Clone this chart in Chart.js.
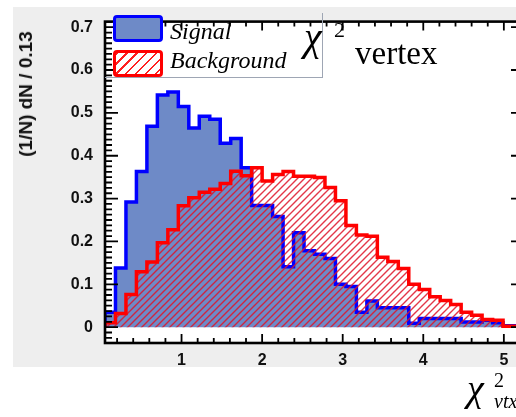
<!DOCTYPE html>
<html>
<head>
<meta charset="utf-8">
<title>chi2 vertex</title>
<script src="https://cdn.jsdelivr.net/npm/chart.js@4.4.1/dist/chart.umd.min.js"></script>
<style>
    html, body { margin: 0; padding: 0; background: #fff; width: 516px; height: 417px; overflow: hidden; }
    #figBg { position: absolute; left: 13px; top: 7px; width: 503px; height: 360px; background: #eeeeee; }
    #wrap { position: absolute; left: 0; top: 0; width: 530px; height: 417px; }
    .txt { position: absolute; line-height: 1; white-space: nowrap; color: #000; font-family: "Liberation Serif", "DejaVu Serif", serif; }
    #yTitle { position: absolute; left: 26px; top: 94px; transform: translate(-50%, -50%) rotate(-90deg);
              font: bold 19px "Liberation Sans", Arial, sans-serif; color: #111; white-space: nowrap; }
    #legendBox { position: absolute; left: 105px; top: 13px; width: 217px; height: 64px;
                 border-right: 1.5px solid #9ea6b4; border-bottom: 1.5px solid #9ea6b4; }
    .swatch { position: absolute; left: 113px; width: 44px; height: 21px; border-radius: 4px; }
    #swSig { top: 15px; background: rgb(110, 138, 199); border: 3px solid #0000ff; }
    #swBkg { top: 50px; background: repeating-linear-gradient(135deg, #ff2020 0 1.6px, #fff 1.6px 7px); border: 3px solid #ff0000; }
</style>
</head>
<body>
<div id="figBg"></div>
<div id="wrap"><canvas id="chart"></canvas></div>

<div id="legendBox"></div>
<div class="swatch" id="swSig"></div>
<div class="swatch" id="swBkg"></div>
<div class="txt" style="left:170px; top:19px; font-size:24px; font-style:italic;">Signal</div>
<div class="txt" style="left:170px; top:48px; font-size:24px; font-style:italic;">Background</div>

<div class="txt" style="left:304px; top:17px; font-size:40px; font-style:italic;">χ</div>
<div class="txt" style="left:334px; top:19px; font-size:22px;">2</div>
<div class="txt" style="left:355px; top:37px; font-size:33px;">vertex</div>

<div class="txt" style="left:467px; top:369px; font-size:38px; font-style:italic;">χ</div>
<div class="txt" style="left:494px; top:370px; font-size:20px;">2</div>
<div class="txt" style="left:494px; top:391px; font-size:20px; font-style:italic;">vtx</div>

<div id="yTitle">(1/N) dN / 0.13</div>

<script>
// Histogram binning: 40 bins of width 0.13 starting at 0.05
const binEdges = [0.05, 0.18, 0.31, 0.44, 0.57, 0.70, 0.83, 0.96, 1.09, 1.22,
                  1.35, 1.48, 1.61, 1.74, 1.87, 2.00, 2.13, 2.26, 2.39, 2.52,
                  2.65, 2.78, 2.91, 3.04, 3.17, 3.30, 3.43, 3.56, 3.69, 3.82,
                  3.95, 4.08, 4.21, 4.34, 4.47, 4.60, 4.73, 4.86, 4.99, 5.12, 5.25];

// (1/N) dN per bin
const signalValues = [0.035, 0.138, 0.292, 0.363, 0.469, 0.542, 0.549, 0.515, 0.465, 0.492,
                      0.485, 0.429, 0.440, 0.372, 0.284, 0.284, 0.258, 0.141, 0.220, 0.178,
                      0.170, 0.160, 0.100, 0.095, 0.035, 0.061, 0.045, 0.045, 0.045, 0.009,
                      0.020, 0.020, 0.020, 0.020, 0.012, 0.012, 0.016, 0.010, 0.003, 0.003];

const backgroundValues = [0.010, 0.032, 0.076, 0.129, 0.152, 0.197, 0.227, 0.283, 0.302, 0.315,
                          0.322, 0.335, 0.364, 0.353, 0.372, 0.341, 0.356, 0.363, 0.352, 0.352,
                          0.349, 0.326, 0.295, 0.237, 0.215, 0.212, 0.163, 0.153, 0.137, 0.100,
                          0.088, 0.071, 0.062, 0.053, 0.035, 0.028, 0.018, 0.016, 0.002, 0.002];

// Tick labels
const xTickValues = [1, 2, 3, 4, 5];
const yTickValues = [0, 0.1, 0.2, 0.3, 0.4, 0.5, 0.6, 0.7];

// Turn bin contents into a step outline (left edge of each bin, closed at both ends)
function histPoints(values) {
    const pts = [{ x: binEdges[0], y: 0 }];
    values.forEach((v, i) => pts.push({ x: binEdges[i], y: v }));
    pts.push({ x: binEdges[values.length], y: 0 });
    return pts;
}

// Red "///" hatch used for the background fill
function makeHatch() {
    const c = document.createElement('canvas');
    c.width = 7;
    c.height = 7;
    const g = c.getContext('2d');
    g.strokeStyle = 'rgba(222, 20, 40, 0.85)';
    g.lineWidth = 1.4;
    g.beginPath();
    g.moveTo(-1, 8); g.lineTo(8, -1);
    g.moveTo(-1, 1); g.lineTo(1, -1);
    g.moveTo(6, 8); g.lineTo(8, 6);
    g.stroke();
    return g.createPattern(c, 'repeat');
}

// ROOT-like frame: white pad, box, inward ticks on all four sides
const rootFrame = {
    id: 'rootFrame',
    beforeDraw(chart) {
        const { ctx, chartArea: a } = chart;
        ctx.save();
        ctx.fillStyle = '#fff';
        ctx.fillRect(a.left, a.top, a.right - a.left, a.bottom - a.top);
        ctx.restore();
    },
    afterDatasetsDraw(chart) {
        const { ctx, chartArea: a, scales } = chart;
        const xs = scales.x, ys = scales.y;
        ctx.save();
        ctx.strokeStyle = '#000';
        ctx.lineWidth = 1.8;
        ctx.beginPath();
        // x ticks every 0.2, major every 1
        for (let i = 1; i * 0.2 < xs.max; i++) {
            const px = xs.getPixelForValue(i * 0.2);
            const len = i % 5 === 0 ? 9 : 5;
            ctx.moveTo(px, a.bottom); ctx.lineTo(px, a.bottom - len);
            ctx.moveTo(px, a.top); ctx.lineTo(px, a.top + len);
        }
        // y ticks every 0.0125, major every 0.1
        for (let i = -2; i * 0.0125 <= ys.max; i++) {
            const py = ys.getPixelForValue(i * 0.0125);
            const len = i % 8 === 0 ? 13 : 7;
            ctx.moveTo(a.left, py); ctx.lineTo(a.left + len, py);
            ctx.moveTo(a.right, py); ctx.lineTo(a.right - len, py);
        }
        ctx.stroke();
        ctx.lineWidth = 2.6;
        ctx.strokeRect(a.left, a.top, a.right - a.left, a.bottom - a.top);
        ctx.restore();
    }
};

const tickFont = { family: '"Liberation Sans", Arial, sans-serif', size: 16, weight: 'bold' };

new Chart(document.getElementById('chart'), {
    type: 'line',
    data: {
        datasets: [
            {
                label: 'Signal',
                data: histPoints(signalValues),
                stepped: true,
                borderColor: '#0000ff',
                borderWidth: 3.5,
                backgroundColor: 'rgb(110, 138, 199)',
                fill: 'origin',
                pointRadius: 0,
                order: 2
            },
            {
                label: 'Background',
                data: histPoints(backgroundValues),
                stepped: true,
                borderColor: '#ff0000',
                borderWidth: 3.5,
                backgroundColor: makeHatch(),
                fill: 'origin',
                pointRadius: 0,
                order: 1
            }
        ]
    },
    options: {
        responsive: true,
        maintainAspectRatio: false,
        animation: false,
        layout: { padding: { left: 0, top: 13, right: 6, bottom: 0 } },
        plugins: {
            legend: { display: false },
            tooltip: { enabled: false }
        },
        scales: {
            x: {
                type: 'linear',
                min: 0.05,
                max: 5.25,
                grid: { display: false, drawTicks: false },
                border: { display: false },
                afterBuildTicks: s => { s.ticks = xTickValues.map(v => ({ value: v })); },
                afterFit: s => { s.height = 74; },
                ticks: { font: tickFont, color: '#111', padding: 8, autoSkip: false, maxRotation: 0,
                         callback: v => String(v) }
            },
            y: {
                type: 'linear',
                min: -0.037,
                max: 0.713,
                grid: { display: false, drawTicks: false },
                border: { display: false },
                afterBuildTicks: s => { s.ticks = yTickValues.map(v => ({ value: v })); },
                afterFit: s => { s.width = 105; },
                ticks: { font: tickFont, color: '#111', padding: 12,
                         callback: v => v === 0 ? '0' : v.toFixed(1) }
            }
        }
    },
    plugins: [rootFrame]
});
</script>
</body>
</html>
